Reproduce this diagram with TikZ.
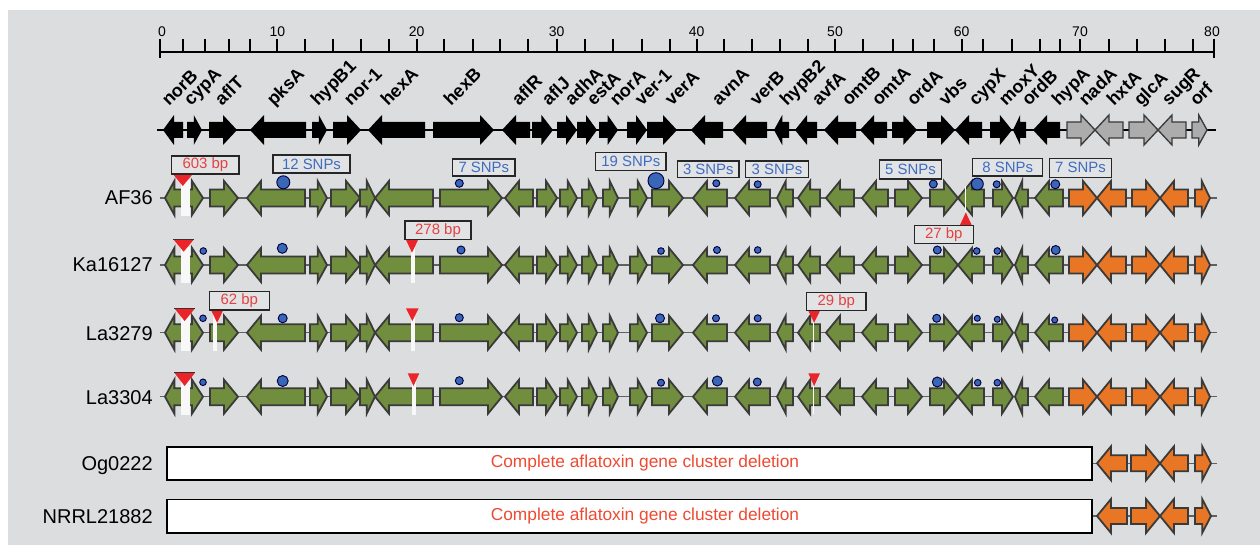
\documentclass[tikz,border=0pt]{standalone}
\usepackage{fontspec}
\setmainfont{Liberation Sans}
\definecolor{bgc}{RGB}{220,221,223}
\definecolor{ggreen}{RGB}{112,142,62}
\definecolor{gorange}{RGB}{232,118,36}
\definecolor{ggray}{RGB}{172,172,172}
\definecolor{gline}{RGB}{58,58,58}
\definecolor{snpblue}{RGB}{58,102,184}
\definecolor{txtblue}{RGB}{64,108,190}
\definecolor{txtred}{RGB}{228,66,66}
\definecolor{trired}{RGB}{234,36,40}
\definecolor{delred}{RGB}{238,74,50}

\newcommand{\geneRow}[5]{%
  \edef\gaList{#5}%
  \foreach \xa/\xb/\dd in \gaList {%
    \pgfmathsetmacro{\gaHL}{min(14,0.55*(\xb-\xa))}%
    \ifnum\dd=1
      \pgfmathsetmacro{\gaHB}{\xb-\gaHL}%
      \draw[#1] (\xa,#2-#3) -- (\gaHB,#2-#3) -- (\gaHB,#2-#4) -- (\xb,#2) -- (\gaHB,#2+#4) -- (\gaHB,#2+#3) -- (\xa,#2+#3) -- cycle;
    \else
      \pgfmathsetmacro{\gaHB}{\xa+\gaHL}%
      \draw[#1] (\xb,#2-#3) -- (\gaHB,#2-#3) -- (\gaHB,#2-#4) -- (\xa,#2) -- (\gaHB,#2+#4) -- (\gaHB,#2+#3) -- (\xb,#2+#3) -- cycle;
    \fi
  }}

\newcommand{\labBox}[7]{%
  \draw[labframe] (#1,#2) rectangle (#3,#4);
  \node[labtext,text=#5] (#7) at ({(#1+#3)/2},{(#2+#4)/2}) {#6};}

\def\blackGenes{163/183/-1, 187/202/1, 209/237/1, 250/306/-1, 312/327/1, 333/361/1, 368/425/-1, 433/494/1, 502/530/-1, 532/553/1, 557/577/1, 577/597/1, 599/618/1, 627/647/1, 647/677/1, 691/723/-1, 732/767/-1, 774/789/-1, 795/817/-1, 824/856/-1, 860/887/-1, 892/917/1, 927/955/1, 955/982/-1, 990/1012/1, 1013/1026/-1, 1033/1060/-1}
\def\grayGenes{1067/1095/1, 1095/1123/-1, 1129/1158/1, 1158/1186/-1, 1192/1207/1}
\def\greenGenes{165/182/-1, 183/203/1, 210/238/1, 247/305/-1, 310/327/1, 331/360/1, 360/375/1, 375/433/-1, 440/502/1, 505/533/-1, 537/557/1, 560/577/1, 582/597/1, 603/618/1, 630/647/1, 652/683/1, 693/727/-1, 735/770/-1, 777/793/-1, 798/820/-1, 826/854/-1, 862/888/-1, 895/922/1, 930/958/1, 958/984/-1, 993/1013/1, 1015/1028/-1, 1035/1063/-1}
\def\orangeGenes{1069/1097/1, 1097/1126/-1, 1132/1160/1, 1160/1188/-1, 1195/1210/1}
\def\orangeShort{1097/1127/-1, 1131/1160/1, 1160/1188/-1, 1195/1211/1}

\begin{document}
\begin{tikzpicture}[x=0.75pt,y=-0.75pt,
  greengene/.style={fill=ggreen,draw=gline,line width=1.35pt,line join=miter},
  orangegene/.style={fill=gorange,draw=gline,line width=1.35pt,line join=miter},
  graygene/.style={fill=ggray,draw=gline,line width=1.0pt,line join=miter},
  blackgene/.style={fill=black,draw=none},
  backbone/.style={draw=gray!75!black,line width=1.1pt},
  snpdot/.style={fill=snpblue,draw=black!75!blue,line width=0.7pt},
  labframe/.style={draw=black!85,line width=1.1pt,fill=bgc!82!white},
  labtext/.style={font=\fontsize{11.2}{13}\selectfont,inner sep=0pt},
  deltri/.style={fill=trired,draw=none},
  triedge/.style={draw=black!80,line width=0.9pt},
  gapfill/.style={fill=white!80!bgc,draw=none},
  gapline/.style={draw=white,line width=1.1pt},
  rowlab/.style={font=\fontsize{15}{18}\selectfont,anchor=base east,inner sep=0pt},
  genelab/.style={font=\fontsize{13.5}{16}\selectfont\bfseries,anchor=base west,inner sep=0pt,rotate=45},
  scalelab/.style={font=\fontsize{10.5}{12}\selectfont,anchor=base,inner sep=0pt},
  bigbox/.style={fill=white,draw=black,line width=1.2pt},
  bigtext/.style={font=\fontsize{13}{15}\selectfont,text=delred,inner sep=0pt}]

\useasboundingbox (0,0) rectangle (1260,545);
\fill[white] (0,0) rectangle (1260,545);
\fill[bgc] (8,10) rectangle (1260,545);

% ---------- scale ----------
\draw[line width=2.2pt] (160,52) -- (1214,52);
\foreach \t in {182.7,205.3,228.7,250,277.3,305.3,333.3,361.3,389.3,416.7,444,472.7,500,528.3,556.7,585,613.3,641.7,670,696.7,724,752.3,780,808.3,835,863.3,892.7,912.7,934,961.7,983.3,1011.7,1040,1060,1080,1109.3,1136.7,1165,1193.3}
  \draw[line width=1.6pt] (\t,39) -- (\t,52);
\draw[line width=2.2pt] (160,39) -- (160,58);
\draw[line width=2.2pt] (1214,39) -- (1214,58);
\foreach \v/\t in {0/162,10/277.3,20/416.7,30/556.7,40/696.7,50/835,60/961.7,70/1080,80/1212}
  \node[scalelab] (s\v) at (\t,37) {\v};

% ---------- gene names ----------
\foreach \g/\t in {norB/169,cypA/191,aflT/222,pksA/274,hypB1/318,nor-1/351,hexA/388,hexB/451,aflR/519,aflJ/549,adhA/572,estA/594,norA/617,ver-1/642,verA/672,avnA/719,verB/757,hypB2/787,avfA/819,omtB/849,omtA/879,ordA/914,vbs/946,cypX/976,moxY/1006,ordB/1029,hypA/1059,nadA/1086,hxtA/1114,glcA/1141,sugR/1169,orf/1197}
  \node[genelab] (n\g) at (\t,107) {\g};

% ---------- reference (black) row ----------
\draw[line width=1.6pt] (157,130) -- (1216,130);
\geneRow{blackgene}{130}{8}{15}{\blackGenes}
\geneRow{graygene}{130}{8}{15}{\grayGenes}

% ---------- strain rows ----------
\foreach \yc in {198,265,332.7,396.7}{
  \draw[backbone] (160,\yc) -- (1217,\yc);
  \geneRow{greengene}{\yc}{8.5}{17}{\greenGenes}
  \geneRow{orangegene}{\yc}{8.5}{17}{\orangeGenes}
  \fill[gapfill] (181,\yc-18) rectangle (190,\yc+18);
}
% small deletions
\foreach \yc/\xa/\xb in {265/410.5/414.5, 332.7/410.5/415, 396.7/411.5/415.5, 332.7/213.3/217.3}
  \fill[gapfill] (\xa,\yc-18) rectangle (\xb,\yc+18);
\draw[gapline] (965.5,186) -- (965.5,212);
\draw[gapline] (813.5,322.7) -- (813.5,350);
\draw[gapline] (813.5,386) -- (813.5,414);

\node[rowlab] (rAF) at (153,205) {AF36};
\node[rowlab] (rKa) at (153,272) {Ka16127};
\node[rowlab] (rL1) at (153,340) {La3279};
\node[rowlab] (rL2) at (153,404) {La3304};
\node[rowlab] (rOg) at (153,470) {Og0222};
\node[rowlab] (rNR) at (153,523) {NRRL21882};

% ---------- deletion triangles ----------
\foreach \xa/\xb/\ya/\yb in {172.3/193.3/173.3/186, 173.3/194/239.3/251.7, 174.3/195/308.3/321, 174.3/195/372.7/386}{
  \fill[deltri] (\xa,\ya) -- (\xb,\ya) -- ({(\xa+\xb)/2},\yb) -- cycle;
  \draw[triedge] (\xa,\ya) -- (\xb,\ya);
}
\foreach \xa/\xb/\ya/\yb in {405.7/418.3/239.3/252.7, 406/418.7/308.3/321, 407.7/419.3/373.3/386, 211/223.3/310/322.7, 808.3/820/310.7/322.7, 808.3/820/373.3/386}
  \fill[deltri] (\xa,\ya) -- (\xb,\ya) -- ({(\xa+\xb)/2},\yb) -- cycle;
\fill[deltri] (960,225) -- (971.7,225) -- (965.8,212.5) -- cycle;

% ---------- SNP dots ----------
\foreach \x/\y/\rr in {
  283.3/182.3/6.5, 459.3/183.3/4, 656/180.7/8, 716.3/183.3/3.5, 757.7/184.3/3.5, 933.3/184/4, 977.3/184/6, 996.7/184.3/3.5, 1055.3/184.3/4.5,
  203.3/251/3.3, 282.3/248.3/5, 461/250/4, 661/251/3.3, 717/250/3.5, 757.7/250/3.3, 937.3/250/4, 976.7/251/3.3, 997.3/251/3.3, 1055.7/250/4.5,
  203/318.3/3.3, 282.7/318.3/4.5, 459.3/317.7/4, 660/318.3/4.5, 716/318.3/3.5, 757.7/318.3/3.5, 936.7/318.3/4, 977.3/318.3/3, 997.3/319.3/3, 1054.7/320/3,
  203/382.3/3.3, 282.7/381/5.5, 459.3/380.7/4, 661/382.7/3.5, 717.3/381/5, 757.3/382/4, 937.3/382/5, 977.7/382.7/3.3, 997.3/382.7/3.3}
  \draw[snpdot] (\x,\y) circle[radius=\rr*0.75pt];

% ---------- label boxes ----------
\labBox{171.7}{156}{239}{174}{txtred}{603 bp}{b603}
\labBox{273}{155}{350}{173}{txtblue}{12 SNPs}{bs12}
\labBox{452.7}{159}{515}{176}{txtblue}{7 SNPs}{bs7a}
\labBox{595.7}{152.7}{666}{170.7}{txtblue}{19 SNPs}{bs19}
\labBox{677.7}{161}{739}{177.7}{txtblue}{3 SNPs}{bs3a}
\labBox{745.7}{161}{808.3}{177.7}{txtblue}{3 SNPs}{bs3b}
\labBox{879.3}{160}{941.7}{179}{txtblue}{5 SNPs}{bs5}
\labBox{972.7}{158.3}{1042.7}{176}{txtblue}{8 SNPs}{bs8}
\labBox{1049.3}{158.3}{1111.7}{177.3}{txtblue}{7 SNPs}{bs7b}
\labBox{914.3}{225.7}{973.3}{243.3}{txtred}{27 bp}{b27}
\labBox{405}{221}{471}{239.3}{txtred}{278 bp}{b278}
\labBox{209.3}{291.7}{269.3}{310}{txtred}{62 bp}{b62}
\labBox{806.7}{292.3}{866}{310.7}{txtred}{29 bp}{b29}

% ---------- complete deletions ----------
\foreach \yc/\ya/\yb/\nm in {463.3/446.7/480/og, 516/499.3/532.7/nr}{
  \draw[backbone] (1092,\yc) -- (1217,\yc);
  \draw[bigbox] (166.7,\ya) rectangle (1091.7,\yb);
  \node[bigtext] (del\nm) at (645,\yc) {Complete aflatoxin gene cluster deletion};
  \geneRow{orangegene}{\yc}{8}{17}{\orangeShort}
}
\end{tikzpicture}
\end{document}
